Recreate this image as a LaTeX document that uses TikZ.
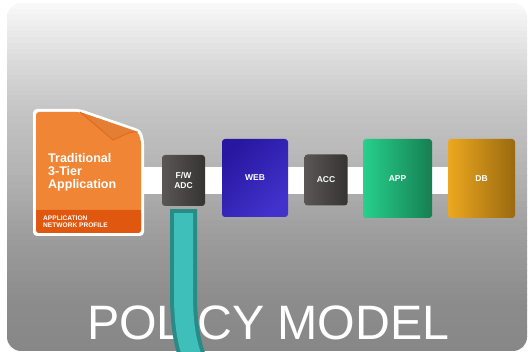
\documentclass[tikz,border=0pt]{standalone}
\usepackage{fontspec}
\setmainfont{Liberation Sans}
\usepackage{tikz}
\usetikzlibrary{arrows,shapes}

\definecolor{docorange}{HTML}{F08536}
\definecolor{docband}{HTML}{E0570F}
\definecolor{docfold}{HTML}{D96A22}
\definecolor{webtop}{HTML}{4232CC}
\definecolor{webbot}{HTML}{2817A0}
\definecolor{gatetop}{HTML}{5A5655}
\definecolor{gatebot}{HTML}{363333}
\definecolor{apptop}{HTML}{27D08C}
\definecolor{appbot}{HTML}{167F52}
\definecolor{dbtop}{HTML}{ECA81F}
\definecolor{dbbot}{HTML}{9A6A10}
\definecolor{tubeedge}{HTML}{2A8A86}
\definecolor{tubefill}{HTML}{3FBFBA}

\pgfdeclarelayer{bg}
\pgfdeclarelayer{mid}
\pgfsetlayers{bg,mid,main}

\begin{document}
\begin{tikzpicture}[x=1pt,y=-1pt,
    tier/.style={rounded corners=3pt,inner sep=0pt,text=white!88,
        font=\bfseries\fontsize{8.5}{9.5}\selectfont,align=center,
        shading angle=135},
    gate/.style={tier,minimum width=43pt,minimum height=51pt,
        left color=gatetop,right color=gatebot},
    bar/.style={white,line width=27pt},
    tube/.style={line width=#1,line cap=butt}]
\useasboundingbox (0,0) rectangle (528,352);
\begin{pgfonlayer}{bg}
\begin{scope}
\clip[rounded corners=14pt] (7,3) rectangle (527,351);
\foreach \ya/\yb/\ca/\cb in {3/60/2/14, 60/110/14/23, 110/175/23/30,
    175/240/30/39, 240/300/39/45, 300/352/45/47}
  \foreach \k in {0,...,9} {
    \pgfmathsetmacro\ys{\ya+\k*(\yb-\ya)/10}
    \pgfmathsetmacro\ye{\ys+(\yb-\ya)/10+0.6}
    \pgfmathsetmacro\cc{\ca+(\k+0.5)*(\cb-\ca)/10}
    \fill[black!\cc] (0,\ys) rectangle (528,\ye);
  }
\end{scope}
\end{pgfonlayer}

% application profile
\node [minimum width=111pt,minimum height=127pt,inner sep=0pt] (doc) at (88.5,172.5) {};
\fill[white,rounded corners=4pt] (33,236) -- (33,109) -- (80,109) -- (141,130) -- (144,140) -- (144,236) -- cycle;
\fill[docorange,rounded corners=3pt] (36,233) -- (36,112) -- (79,112) -- (138,132) -- (141,141) -- (141,233) -- cycle;
\fill[docband,rounded corners=3pt] (36,210) -- (141,210) -- (141,233) -- (36,233) -- cycle;
\fill[docband] (36,210) rectangle (141,216);
\draw[docfold,fill=docorange!95!black,line width=0.8pt] (80,112) -- (113,140) .. controls (121,137) and (129,131) .. (138,132);
\node [anchor=base west,inner sep=0pt,align=left,text=white!92,
    font=\bfseries\fontsize{12.5}{13}\selectfont] (doctext) at (48,189)
    {Traditional\\3-Tier\\Application};
\node [anchor=base west,inner sep=0pt,align=left,text=white!88,
    font=\bfseries\fontsize{6.6}{7.4}\selectfont] (docprofile) at (43,228)
    {APPLICATION\\NETWORK PROFILE};

% tiers
\node [gate] (fwadc) at (183.5,180.5) {F/W\\ADC};
\node [tier,minimum width=66pt,minimum height=78pt,left color=webbot,right color=webtop,shading angle=45] (web) at (255,178) {WEB};
\node [gate] (acc) at (326,180) {ACC};
\node [tier,minimum width=69pt,minimum height=79pt,left color=apptop,right color=appbot] (app) at (397.5,178.5) {APP};
\node [tier,minimum width=67pt,minimum height=79pt,left color=dbtop,right color=dbbot] (db) at (481.5,178.5) {DB};

\begin{pgfonlayer}{mid}
\draw[bar] (doc.east |- fwadc.center) -- (db.center |- fwadc.center);
\end{pgfonlayer}

\node [anchor=base west,inner sep=0pt,text=white,
    font=\fontsize{48.3}{50}\selectfont] (title) at (87,340) {POLICY MODEL};

% policy tube
\draw[tube=27pt,tubeedge] ([yshift=-3pt]fwadc.south) -- ++(0,85) .. controls +(0,34) and +(-6,-16) .. (194,362);
\draw[tube=19pt,tubefill] ([yshift=-7pt]fwadc.south) -- ++(0,81) .. controls +(0,34) and +(-6,-16) .. (194,362);
\end{tikzpicture}
\end{document}
